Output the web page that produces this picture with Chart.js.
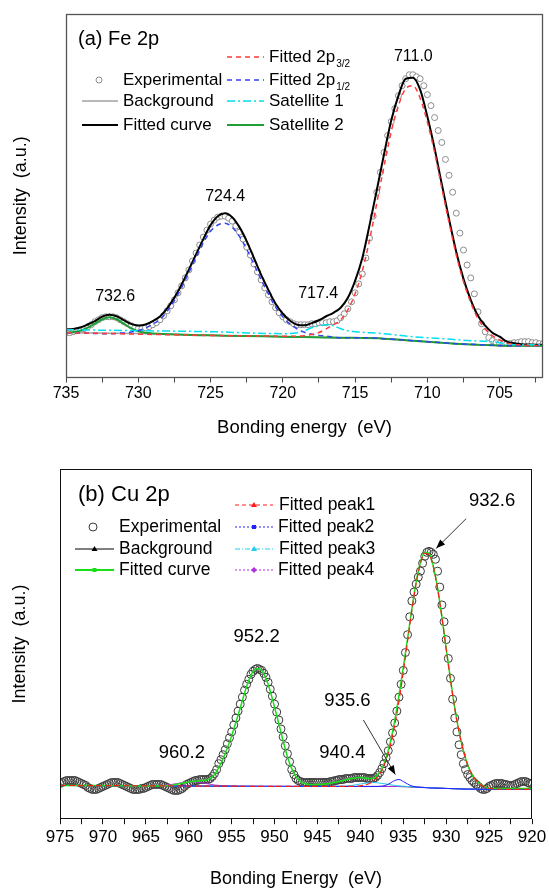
<!DOCTYPE html>
<html><head><meta charset="utf-8">
<script src="https://cdn.jsdelivr.net/npm/chart.js@4.4.1/dist/chart.umd.min.js"></script>
<style>
html,body{margin:0;padding:0;background:#fff;}
#wrap{position:relative;width:549px;height:890px;}
#c1{position:absolute;left:0;top:0;}
#c2{position:absolute;left:0;top:440px;}
</style></head><body>
<div id="wrap"><canvas id="c1" width="549" height="440"></canvas><canvas id="c2" width="549" height="450"></canvas></div>
<script>
// ---------------- (a) Fe 2p ----------------
const feExpE = [
735,734.75,734.5,734.25, 734,733.75,733.5,733.25, 733,732.75,732.5,732.25, 732,731.75,731.5,731.25,
731,730.75,730.5,730.25, 730,729.75,729.5,729.25, 729,728.75,728.5,728.25, 728,727.75,727.5,727.25,
727,726.75,726.5,726.25, 726,725.75,725.5,725.25, 725,724.75,724.5,724.25, 724,723.75,723.5,723.25,
723,722.75,722.5,722.25, 722,721.75,721.5,721.25, 721,720.75,720.5,720.25, 720,719.75,719.5,719.25,
719,718.75,718.5,718.25, 718,717.75,717.5,717.25, 717,716.75,716.5,716.25, 716,715.75,715.5,715.25,
715,714.75,714.5,714.25, 714,713.75,713.5,713.25, 713,712.75,712.5,712.25, 712,711.75,711.5,711.25,
711,710.75,710.5,710.25, 710,709.75,709.5,709.25, 709,708.75,708.5,708.25, 708,707.75,707.5,707.25,
707,706.75,706.5,706.25, 706,705.75,705.5,705.25, 705,704.75,704.5,704.25, 704,703.75,703.5,703.25,
703,702.75,702.5,702.25, 702];
const feExp = [
45,45,46,47, 48,49,51,53, 56,58,60,61, 61,61,60,58,
56,54,52,50, 49,49,50,51, 53,55,58,62, 67,72,78,85,
92,100,108,117, 125,133,141,148, 154,158,161,162, 162,160,157,152,
146,139,131,123, 114,106,98,90, 83,76,70,65, 61,58,56,54,
53,53,53,53, 54,54,55,55, 55,56,56,57, 60,64,69,76,
85,94,104,120, 140,162,186,206, 226,243,257,270, 283,293,300,304,
304,302,300,293, 284,273,261,248, 236,219,203,186, 165,145,128,113,
100,84,66,54, 46,40,37,35, 34,34,34,34, 35,35,36,36,
36,35,35,34, 34];
const feFitE = [735,734.5,734,733.5,733,732.5,732,731.5,731,730.5,
730,729.5,729,728.5,728,727.5,727,726.5,726,725.5,
725,724.5,724,723.5,723,722.5,722,721.5,721,720.5,
720,719.5,719,718.5,718,717.5,717,716.5,716,715.5,
715,714.5,714,713.5,713,712.5,712,711.5,711,710.5,
710,709.5,709,708.5,708,707.5,707,706.5,706,705.5,
705,704.5,704,703.5,703,702.5,702];
const feFit = [48.2,48.7,50.2,53.2,56.7,61.1,63,61.5,57.5,53.8,
52.3,53.3,56.7,61.3,69.5,80.2,93.4,108.3,123.8,139,
153,162,165,161,151,137,120,103,88,74,
64,57,53,52.4,54.6,57.5,61.5,65,70,80,
97,120,153,188,224,258,283,300,301,289,
262,230,194,159,126,99,78,62,52,45,
41,36,34.5,33.5,33.2,33,33];
const feBgE = [735,729,724,720,716,714,713,712,711,710,709,708,706.5,704.5,702];
const feBg  = [45,44,42,41,40,40,39,38,37,36,35,34,33,32,32];
const feSat2E = [735,734.5,734,733.5,733,732.5,732,731.5,731,730.5,730,729.5,729,724,720,716,713,711,709,708,706.5,704.5,702];
const feSat2  = [45,45.7,47,50,54,58.5,60.5,58.5,54,49.5,46.5,45,44.3,42,41,40,39,37,35,34,33,32,32];
const feSat1E = [735,730,725,720,719,718.5,718,717.5,717,716.5,716,715.5,715,713,711,709,707,705.5,704,702];
const feSat1  = [48,47,46,44,45,47,50,52,53,52,49,47,46,44,41,39,37,36,33,33];
const fe12E = [735,732,731.5,731,730.5,730,729.5,729,728.5,728,727.5,727,726.5,726,725.5,725,724.5,724,723.5,723,
722.5,722,721.5,721,720.5,720,719.5,719,718.5,718,717.5,717,716,714,713,712,711,710,709,708,706.5,704.5,702];
const fe12  = [45,44,44.4,44.8,45.6,47.1,49.6,53.5,58.3,66.5,77.2,90.4,105.3,120.8,135.3,146.9,153.1,155,150.9,141.7,
128.8,113.7,98.2,83.9,70.6,60.9,53.7,48.7,45.4,43.4,42.3,41.6,40,40,39,38,37,36,35,34,33,32,32];
const fe32E = [735,724,719,718.5,718,717.5,717,716.5,716,715.5,715,714.5,714,713.5,713,712.5,712,711.5,711,710.5,
710,709.5,709,708.5,708,707.5,707,706.5,706,705.5,705,704.5,704,703.5,703,702];
const fe32  = [45,42,41.5,42,43.2,45.2,48.9,53,58,68,84,107,138,175,212,247,273,290,293,280.4,
256.6,225.9,190.3,155.6,122.9,96.2,75.4,59.1,48.7,41.9,37.8,34.5,33.2,32.5,32.2,32];

// ---------------- (b) Cu 2p ----------------
const cuExpE = [
975,974.75,974.5,974.25, 974,973.75,973.5,973.25, 973,972.75,972.5,972.25, 972,971.75,971.5,971.25,
971,970.75,970.5,970.25, 970,969.75,969.5,969.25, 969,968.75,968.5,968.25, 968,967.75,967.5,967.25,
967,966.75,966.5,966.25, 966,965.75,965.5,965.25, 965,964.75,964.5,964.25, 964,963.75,963.5,963.25,
963,962.75,962.5,962.25, 962,961.75,961.5,961.25, 961,960.75,960.5,960.25, 960,959.75,959.5,959.25,
959,958.75,958.5,958.25, 958,957.75,957.5,957.25, 957,956.75,956.5,956.25, 956,955.75,955.5,955.25,
955,954.75,954.5,954.25, 954,953.75,953.5,953.25, 953,952.75,952.5,952.25, 952,951.75,951.5,951.25,
951,950.75,950.5,950.25, 950,949.75,949.5,949.25, 949,948.75,948.5,948.25, 948,947.75,947.5,947.25,
947,946.75,946.5,946.25, 946,945.75,945.5,945.25, 945,944.75,944.5,944.25, 944,943.75,943.5,943.25,
943,942.75,942.5,942.25, 942,941.75,941.5,941.25, 941,940.75,940.5,940.25, 940,939.75,939.5,939.25,
939,938.75,938.5,938.25, 938,937.75,937.5,937.25, 937,936.75,936.5,936.25, 936,935.75,935.5,935.25,
935,934.75,934.5,934.25, 934,933.75,933.5,933.25, 933,932.75,932.5,932.25, 932,931.75,931.5,931.25,
931,930.75,930.5,930.25, 930,929.75,929.5,929.25, 929,928.75,928.5,928.25, 928,927.75,927.5,927.25,
927,926.75,926.5,926.25, 926,925.75,925.5,925.25, 925,924.75,924.5,924.25, 924,923.75,923.5,923.25,
923,922.75,922.5,922.25, 922,921.75,921.5,921.25, 921,920.75,920.5,920.25, 920];
const cuExp = [
36,37,38,39, 39,39,39,39, 38,37,36,35, 34,32,31,30,
30,30,31,32, 33,34,35,36, 37,37,37,37, 36,35,34,33,
32,31,30,30, 30,30,31,31, 32,33,34,35, 35,35,35,35,
34,33,32,31, 30,29,29,29, 30,31,33,35, 36,37,38,39,
39,40,40,40, 40,40,41,43, 46,50,56,60, 65,70,76,82,
88,95,102,109, 116,123,130,136, 141,146,149,151, 152,151,150,147,
143,138,131,124, 116,108,100,91, 83,74,66,58, 50,45,41,39,
38,37,37,37, 37,37,37,37, 37,37,37,37, 37,37,38,38,
39,39,40,40, 40,41,41,41, 41,42,42,42, 42,42,42,41,
41,41,41,42, 44,47,51,56, 62,69,78,87, 97,109,123,136,
150,168,186,204, 220,229,237,244, 250,258,265,269, 270,269,267,262,
250,234,216,199, 181,162,142,121, 102,88,75,65, 56,50,45,42,
39,37,35,33, 31,30,30,31, 33,34,35,36, 36,36,36,35,
35,34,34,34, 35,36,37,38, 38,38,37,36, 36];
const cuFitE = [975,970,965,962,961,960,959,958,957.5,957,956.5,956,955.5,955,954.5,954,953.5,953,952.5,952,
951.5,951,950.5,950,949.5,949,948.5,948,947.5,947,946.5,946,945,944,943,942,941,940,939,938.5,
938,937.5,937,936.5,936,935.5,935,934.5,934,933.5,933,932.5,932,931.5,931,930.5,930,929.5,929,928.5,
928,927.5,927,926.5,926,925.5,925,924,922,920];
const cuFit = [34,34,33.5,34,36,37.5,38.5,39.5,41,45,52,61,72,84,98,112,127,140,149,152,
150,142,129,113,96,79,63,51,43,38,36,35,35,35.5,37,39,41,42,41,41,
45,50,62,78,99,125,153,182,212,239,259,269,268,255,233,204,172,141,112,88,
69,55,45,39,35,33,31,31,31,31];
const cuBgE = [975,950,936,930,925,920];
const cuBg  = [34,33,33,31,30,30];
const cuP1E = [975,941,940,939.5,939,938.5,938,937.5,937,936.5,936,935.5,935,934.5,934,933.5,933,932.5,932,931.5,
931,930.5,930,929.5,929,928.5,928,927.5,927,926.5,926,925.5,925,924.5,924,920];
const cuP1  = [34,33,33.6,34.4,35.8,38.3,42.6,49.4,59.7,74.5,94.3,119.2,148.4,179.4,210.7,237.6,257.8,268.1,266.9,254.5,
232.1,203.6,171.5,140.3,111.8,87.9,69.2,54.8,45.3,39,34.7,32.5,31.2,30.6,30.3,30];
const cuP2E = [975,940,938,937.5,937,936.5,936,935.5,935,934.5,934,933.5,933,930,925,920];
const cuP2  = [34,33,33,33.3,34.3,36.5,39,40,38,35.5,33.5,32.5,32,31,30,30];
const cuP3E = [975,950,942,941,940,939,938.5,938,937,936,935,930,925,920];
const cuP3  = [34,33,33.3,34,35.5,36.7,37,36.7,35.5,34,33.2,31,30,30];
const cuP4E = [975,965,963,962,961,960,959.5,959,958,957,955,950,936,930,925,920];
const cuP4  = [34,33.5,34,35,36.5,37.5,37.8,37.5,36,34.5,33.3,33,33,31,30,30];

// ------------------------------------------------
const FAM = '"Liberation Sans", Arial, sans-serif';
Chart.defaults.font.family = FAM;
Chart.defaults.color = '#000';
const pts = (xs, ys) => xs.map((v, i) => ({x: v, y: ys[i]}));
const F = s => s + 'px ' + FAM;

function marker(ctx, kind, x, y, color) {
  ctx.save(); ctx.fillStyle = color; ctx.strokeStyle = color; ctx.setLineDash([]);
  ctx.beginPath();
  if (kind === 'tri') { ctx.moveTo(x, y - 3); ctx.lineTo(x + 3, y + 2); ctx.lineTo(x - 3, y + 2); ctx.closePath(); }
  else if (kind === 'dia') { ctx.moveTo(x, y - 3); ctx.lineTo(x + 3, y); ctx.lineTo(x, y + 3); ctx.lineTo(x - 3, y); ctx.closePath(); }
  else { ctx.rect(x - 2, y - 2, 4, 4); }
  ctx.fill(); ctx.restore();
}

const decor = {
  id: 'decor',
  afterDraw(chart, args, o) {
    const {ctx, chartArea: a} = chart;
    const xs = chart.scales.x, ys = chart.scales.y;
    ctx.save();
    ctx.setLineDash([]);
    ctx.strokeStyle = o.frameColor; ctx.lineWidth = o.frameWidth;
    const L = Math.round(a.left) + 0.5, T = Math.round(a.top) + 0.5, R = Math.round(a.right) - 0.5, B = Math.round(a.bottom) - 0.5;
    ctx.strokeRect(L, T, R - L, B - T);
    ctx.textBaseline = 'middle'; ctx.textAlign = 'left'; ctx.fillStyle = '#000';
    ctx.font = F(o.title.size);
    ctx.fillText(o.title.text, a.left + o.title.dx, a.top + o.title.dy);
    for (const it of o.items) {
      const yy = a.top + it.dy;
      if (it.sym === 'circle') {
        ctx.beginPath(); ctx.arc(a.left + it.sx, yy, it.r, 0, 2 * Math.PI);
        ctx.fillStyle = '#fff'; ctx.fill(); ctx.lineWidth = 1; ctx.strokeStyle = it.color; ctx.stroke();
      } else {
        ctx.beginPath(); ctx.setLineDash(it.dash || []); ctx.lineWidth = it.width; ctx.strokeStyle = it.color;
        ctx.moveTo(a.left + it.x1, yy); ctx.lineTo(a.left + it.x2, yy); ctx.stroke(); ctx.setLineDash([]);
        if (it.marker) marker(ctx, it.marker, a.left + (it.x1 + it.x2) / 2, yy, it.color);
      }
      ctx.fillStyle = '#000'; ctx.font = F(o.legendSize);
      ctx.fillText(it.text, a.left + it.tx, yy);
      if (it.sub) {
        const w = ctx.measureText(it.text).width;
        ctx.font = F(o.subSize);
        ctx.fillText(it.sub, a.left + it.tx + w + 1, yy + 7);
      }
    }
    ctx.textAlign = 'center';
    for (const lb of o.labels) {
      ctx.font = F(lb.size);
      ctx.fillText(lb.text, xs.getPixelForValue(lb.x), ys.getPixelForValue(lb.y));
    }
    for (const ar of o.arrows) {
      const x1 = xs.getPixelForValue(ar.x1), y1 = ys.getPixelForValue(ar.y1);
      const x2 = xs.getPixelForValue(ar.x2), y2 = ys.getPixelForValue(ar.y2);
      ctx.strokeStyle = '#333'; ctx.fillStyle = '#000'; ctx.lineWidth = 1;
      ctx.beginPath(); ctx.moveTo(x1, y1); ctx.lineTo(x2, y2); ctx.stroke();
      const g = Math.atan2(y2 - y1, x2 - x1), hl = 9, hw = 3.5;
      ctx.beginPath(); ctx.moveTo(x2, y2);
      ctx.lineTo(x2 - hl * Math.cos(g) + hw * Math.sin(g), y2 - hl * Math.sin(g) - hw * Math.cos(g));
      ctx.lineTo(x2 - hl * Math.cos(g) - hw * Math.sin(g), y2 - hl * Math.sin(g) + hw * Math.cos(g));
      ctx.closePath(); ctx.fill();
    }
    ctx.restore();
  }
};

const lineDs = (label, xs, ys, color, width, dash) => ({
  label, data: pts(xs, ys), borderColor: color, borderWidth: width, borderDash: dash || [],
  pointRadius: 0, fill: false, cubicInterpolationMode: 'monotone'
});

function xAxis(min, max, tickSize, pad, titleText, titleSize, tpTop, tpBot, color) {
  return {
    type: 'linear', min, max, reverse: true,
    ticks: {stepSize: 2.5, includeBounds: false, autoSkip: false, maxRotation: 0, padding: pad,
      font: {size: tickSize}, color: '#000', callback: v => (v % 5 === 0 ? String(v) : '')},
    grid: {display: true, drawOnChartArea: false, drawTicks: true, tickLength: 5, color: color, tickWidth: 1},
    border: {display: false},
    title: {display: true, text: titleText, font: {size: titleSize}, color: '#000', padding: {top: tpTop, bottom: tpBot}}
  };
}
function yAxis(max, size, pt, pb) {
  return {
    type: 'linear', min: 0, max,
    ticks: {display: false}, grid: {display: false, drawTicks: false}, border: {display: false},
    title: {display: true, text: 'Intensity  (a.u.)', font: {size}, color: '#000', padding: {top: pt, bottom: pb}}
  };
}

new Chart(document.getElementById('c1'), {
  type: 'line',
  data: {datasets: [
    lineDs('Fitted 2p3/2', fe32E, fe32, '#ff3b3b', 1.5, [5, 4]),
    lineDs('Fitted 2p1/2', fe12E, fe12, '#3344ee', 1.5, [5, 4]),
    lineDs('Satellite 1', feSat1E, feSat1, '#00e0f0', 1.5, [8, 3, 2, 3]),
    lineDs('Satellite 2', feSat2E, feSat2, '#1f9e35', 2),
    lineDs('Fitted curve', feFitE, feFit, '#000000', 2),
    lineDs('Background', feBgE, feBg, '#a0a0a0', 1.5),
    {label: 'Experimental', data: pts(feExpE, feExp), showLine: false, pointRadius: 3, pointStyle: 'circle',
     pointBorderColor: '#8c8c8c', pointBackgroundColor: '#ffffff', pointBorderWidth: 1}
  ]},
  options: {
    responsive: false, animation: false, events: [],
    layout: {padding: {top: 14, right: 6, left: 0, bottom: 1}},
    plugins: {legend: {display: false}, tooltip: {enabled: false},
      decor: {
        frameColor: '#555', frameWidth: 1.3,
        title: {text: '(a) Fe 2p', dx: 12, dy: 25, size: 20},
        legendSize: 17, subSize: 10,
        items: [
          {sym: 'circle', sx: 33, r: 3, dy: 66, color: '#8c8c8c', text: 'Experimental', tx: 57},
          {sym: 'line', x1: 16, x2: 52, dy: 87, color: '#a0a0a0', width: 1.5, text: 'Background', tx: 57},
          {sym: 'line', x1: 16, x2: 52, dy: 111, color: '#000', width: 2, text: 'Fitted curve', tx: 57},
          {sym: 'line', x1: 161, x2: 198, dy: 43, color: '#ff3b3b', width: 1.5, dash: [5, 4], text: 'Fitted 2p', sub: '3/2', tx: 203},
          {sym: 'line', x1: 161, x2: 198, dy: 66, color: '#3344ee', width: 1.5, dash: [5, 4], text: 'Fitted 2p', sub: '1/2', tx: 203},
          {sym: 'line', x1: 161, x2: 198, dy: 87, color: '#00e0f0', width: 1.5, dash: [8, 3, 2, 3], text: 'Satellite 1', tx: 203},
          {sym: 'line', x1: 161, x2: 198, dy: 111, color: '#1f9e35', width: 2, text: 'Satellite 2', tx: 203}
        ],
        labels: [
          {text: '711.0', x: 710.97, y: 322, size: 16},
          {text: '724.4', x: 723.99, y: 182, size: 16},
          {text: '732.6', x: 731.6, y: 81, size: 16},
          {text: '717.4', x: 717.55, y: 84, size: 16}
        ],
        arrows: []
      }
    },
    scales: {
      x: xAxis(702, 735, 16, 1.4, 'Bonding energy  (eV)', 18.5, 12.3, 0, '#444'),
      y: yAxis(365, 18, 10.2, 34.2)
    }
  },
  plugins: [decor]
});

new Chart(document.getElementById('c2'), {
  type: 'line',
  data: {datasets: [
    lineDs('Fitted peak1', cuP1E, cuP1, '#ff1a1a', 1.2, [6, 3]),
    lineDs('Fitted curve', cuFitE, cuFit, '#18e018', 1.5),
    lineDs('Fitted peak2', cuP2E, cuP2, '#2222ff', 1),
    lineDs('Fitted peak3', cuP3E, cuP3, '#22ccee', 1),
    lineDs('Fitted peak4', cuP4E, cuP4, '#b030e0', 1),
    lineDs('Background', cuBgE, cuBg, '#000000', 1),
    {label: 'Experimental', data: pts(cuExpE, cuExp), showLine: false, pointRadius: 4, pointStyle: 'circle',
     pointBorderColor: '#3a3a3a', pointBackgroundColor: 'rgba(255,255,255,0)', pointBorderWidth: 1}
  ]},
  options: {
    responsive: false, animation: false, events: [],
    layout: {padding: {top: 29, right: 16, left: 0, bottom: 0}},
    plugins: {legend: {display: false}, tooltip: {enabled: false},
      decor: {
        frameColor: '#111', frameWidth: 1,
        title: {text: '(b) Cu 2p', dx: 18, dy: 26, size: 22},
        legendSize: 17.5, subSize: 10,
        items: [
          {sym: 'circle', sx: 33, r: 4, dy: 58, color: '#3a3a3a', text: 'Experimental', tx: 59},
          {sym: 'line', x1: 15, x2: 54, dy: 80, color: '#000', width: 1, marker: 'tri', text: 'Background', tx: 59},
          {sym: 'line', x1: 15, x2: 54, dy: 101, color: '#18e018', width: 2, marker: 'sq', text: 'Fitted curve', tx: 59},
          {sym: 'line', x1: 175, x2: 213, dy: 36, color: '#ff1a1a', width: 1, dash: [4, 3], marker: 'tri', text: 'Fitted peak1', tx: 219},
          {sym: 'line', x1: 175, x2: 213, dy: 58, color: '#2222ff', width: 1, dash: [2, 2], marker: 'sq', text: 'Fitted peak2', tx: 218},
          {sym: 'line', x1: 175, x2: 213, dy: 80, color: '#22ccee', width: 1, dash: [5, 2, 1, 2], marker: 'tri', text: 'Fitted peak3', tx: 219},
          {sym: 'line', x1: 175, x2: 213, dy: 101, color: '#b030e0', width: 1, dash: [2, 2], marker: 'dia', text: 'Fitted peak4', tx: 218}
        ],
        labels: [
          {text: '932.6', x: 924.65, y: 321, size: 18.5},
          {text: '952.2', x: 952.1, y: 184, size: 18.5},
          {text: '935.6', x: 941.5, y: 119, size: 18.5},
          {text: '960.2', x: 960.8, y: 67, size: 18.5},
          {text: '940.4', x: 942.1, y: 67, size: 18.5}
        ],
        arrows: [
          {x1: 927.67, y1: 303, x2: 931.16, y2: 273},
          {x1: 939.65, y1: 100, x2: 935.93, y2: 45}
        ]
      }
    },
    scales: {
      x: xAxis(920, 975, 17, 2.8, 'Bonding Energy  (eV)', 18, 18, 0.2, '#111'),
      y: yAxis(353, 18, 9.2, 29.2)
    }
  },
  plugins: [decor]
});
</script></body></html>
